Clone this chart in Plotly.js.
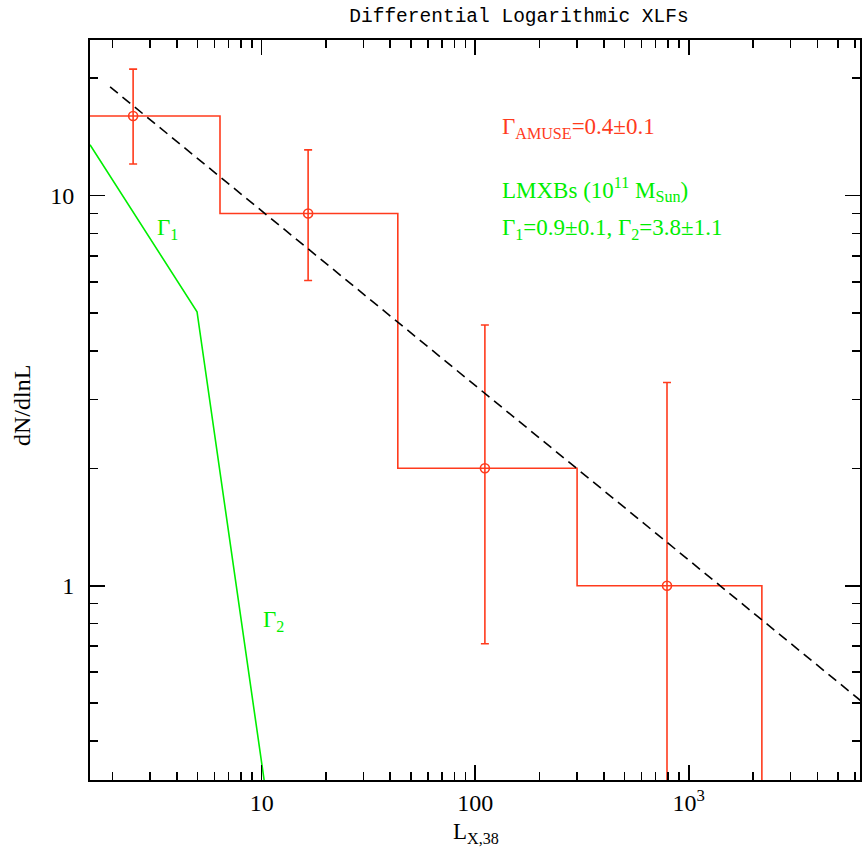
<!DOCTYPE html>
<html>
<head>
<meta charset="utf-8">
<script src="https://cdn.plot.ly/plotly-3.0.1.min.js"></script>
<style>html,body{margin:0;padding:0;background:#fff;}</style>
</head>
<body>
<div id="chart" style="width:862px;height:856px;"></div>
<script>
// ---- data ----
const binEdges   = [0.93, 6.38, 43.4, 300, 2200];     // L_X,38 bin edges
const binCenters = [2.5, 16.5, 111, 791];             // bin centres (points)
const counts     = [16, 9, 2, 1];                     // dN/dlnL
const errUpper   = [21.1, 13.1, 4.66, 3.32];          // upper end of error bar
const errLower   = [12.05, 6.06, 0.71, 0.17];         // lower end of error bar
const fitX = [1.95, 7000];                            // dashed power law (Γ=0.4)
const fitY = [19.0, 0.487];
const lmxbX = [1.57, 4.98, 12];                       // broken power law (LMXBs)
const lmxbY = [13.5, 5.04, 0.175];
const xTickVals = [10, 100, 1000];
const xTickText = ['10', '100', '10<sup>3</sup>'];
const yTickVals = [1, 10];
const yTickText = ['1', '10'];

const xRange = [0.196, 3.802];
const yRange = [-0.498, 1.399];

const RED = '#ff3b1d';
const GREEN = '#00ee00';
const SERIF = 'Liberation Serif, DejaVu Serif, serif';
const MONO = 'Liberation Mono, DejaVu Sans Mono, monospace';

function minorLog(lo, hi) {
  const out = [];
  for (let e = Math.floor(lo) - 1; e <= Math.ceil(hi); e++) {
    for (let d = 2; d <= 9; d++) out.push(d * Math.pow(10, e));
  }
  return out;
}

const stepY = counts.concat([Math.pow(10, yRange[0] - 1)]);

const traces = [
  { x: binEdges, y: stepY, mode: 'lines', line: {shape: 'hv', color: RED, width: 1.6},
    hoverinfo: 'skip', showlegend: false },
  { x: binCenters, y: counts, mode: 'markers',
    marker: {symbol: 'circle-open', size: 9, color: RED, line: {width: 1.6, color: RED}},
    error_y: {type: 'data', symmetric: false,
      array: errUpper.map((u, i) => u - counts[i]),
      arrayminus: errLower.map((l, i) => counts[i] - l),
      color: RED, thickness: 1.6, width: 4},
    showlegend: false },
  { x: fitX, y: fitY, mode: 'lines', line: {color: '#000', width: 1.6, dash: '10px,6px'},
    showlegend: false },
  { x: lmxbX, y: lmxbY, mode: 'lines', line: {color: GREEN, width: 1.6}, showlegend: false }
];

const axisCommon = {
  type: 'log', showgrid: false, zeroline: false,
  showline: true, linecolor: '#000', linewidth: 2, mirror: 'ticks',
  ticks: 'inside', ticklen: 15, tickwidth: 1.6, tickcolor: '#000',
  tickfont: {family: SERIF, size: 24, color: '#000'},
  tickmode: 'array',
  minor: {ticks: 'inside', ticklen: 8, tickwidth: 1.6, tickcolor: '#000', showgrid: false}
};

function ann(text, px, py, color, size, xa, ya, extra) {
  return Object.assign({text: text, xref: 'paper', yref: 'paper',
    x: (px - 90) / 770, y: (780 - py) / 740, xanchor: xa, yanchor: ya,
    showarrow: false, font: {family: SERIF, size: size, color: color}}, extra || {});
}

const layout = {
  width: 862, height: 856,
  margin: {l: 90, r: 2, t: 40, b: 76},
  paper_bgcolor: '#fff', plot_bgcolor: '#fff',
  title: {text: 'Differential Logarithmic XLFs', font: {family: MONO, size: 19.5, color: '#000'},
          x: 519 / 862, xanchor: 'center', xref: 'container', y: 1 - 15 / 856, yanchor: 'middle', yref: 'container'},
  xaxis: Object.assign({}, axisCommon, {range: xRange, tickvals: xTickVals, ticktext: xTickText,
    minor: Object.assign({}, axisCommon.minor, {tickmode: 'array', tickvals: minorLog(xRange[0], xRange[1])})}),
  yaxis: Object.assign({}, axisCommon, {range: yRange, tickvals: yTickVals, ticktext: yTickText,
    ticklabelstandoff: 9,
    minor: Object.assign({}, axisCommon.minor, {tickmode: 'array', tickvals: minorLog(yRange[0], yRange[1])})}),
  annotations: [
    ann('L<sub>X,38</sub>', 476, 817, '#000', 23, 'center', 'top'),
    ann('dN/dlnL', 22, 406, '#000', 24, 'center', 'middle', {textangle: -90}),
    ann('Γ<sub>AMUSE</sub>=0.4±0.1', 500, 112, RED, 23, 'left', 'top'),
    ann('LMXBs (10<sup>11</sup> M<sub>Sun</sub>)', 500, 172, GREEN, 23, 'left', 'top'),
    ann('Γ<sub>1</sub>=0.9±0.1, Γ<sub>2</sub>=3.8±1.1', 500, 213, GREEN, 23, 'left', 'top'),
    ann('Γ<sub>1</sub>', 155, 213, GREEN, 23, 'left', 'top'),
    ann('Γ<sub>2</sub>', 261, 605, GREEN, 23, 'left', 'top')
  ]
};

Plotly.newPlot('chart', traces, layout, {displayModeBar: false, staticPlot: true});
</script>
</body>
</html>
